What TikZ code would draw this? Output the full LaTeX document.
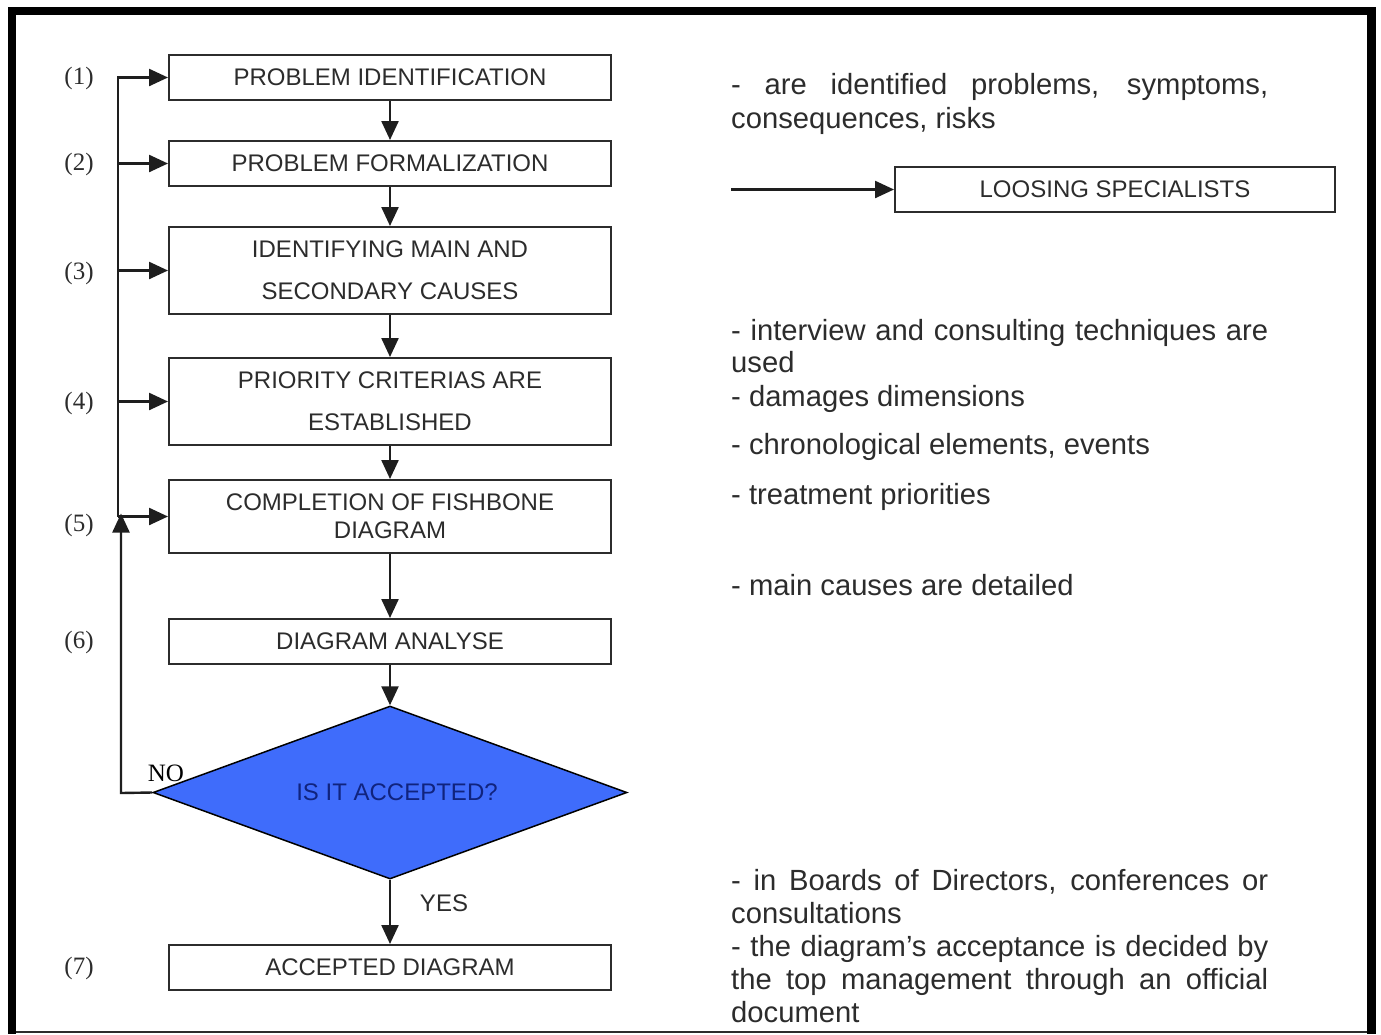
\documentclass[tikz,border=0pt]{standalone}
\usepackage{fontspec}
\setmainfont{Liberation Sans}
\newfontfamily\numfont{Liberation Serif}
\usetikzlibrary{arrows.meta,shapes.geometric,calc}
\definecolor{ink}{HTML}{2C2C2C}
\definecolor{wire}{HTML}{1E1E1E}
\definecolor{decision}{HTML}{3F6CFB}
\definecolor{decisiontext}{HTML}{10237E}

\begin{document}
\begin{tikzpicture}[x=1pt,y=-1pt,
  stepbox/.style={draw=ink, line width=2pt, minimum width=442pt, inner sep=0pt,
    align=center, text=ink, font=\fontsize{24}{42}\selectfont},
  flow/.style={draw=wire, line width=2.4pt, -{Triangle[length=19pt,width=17pt]}},
  wireline/.style={draw=wire, line width=2.4pt},
  steplabel/.style={inner sep=0pt, text=ink, font=\numfont\fontsize{25}{25}\selectfont},
  note/.style={anchor=base west, inner sep=0pt, text=ink, font=\fontsize{29.2}{29.2}\selectfont},
]
\useasboundingbox (0,0) rectangle (1381,1034);
\fill[white] (0,0) rectangle (1381,1034);

% page frame
\fill[black] (8,7) rectangle (1376,15);
\fill[black] (8,7) rectangle (16,1034);
\fill[black] (1367,7) rectangle (1376,1034);
\draw[ink, line width=2pt] (16,1032) -- (1367,1032);

% process steps
\node[stepbox, minimum height=45pt] (b1) at (390,77.5) {PROBLEM IDENTIFICATION};
\node[stepbox, minimum height=45pt] (b2) at (390,163.5) {PROBLEM FORMALIZATION};
\node[stepbox, minimum height=87pt] (b3) at (390,270.5) {IDENTIFYING MAIN AND\\SECONDARY CAUSES};
\node[stepbox, minimum height=87pt] (b4) at (390,401.5) {PRIORITY CRITERIAS ARE\\ESTABLISHED};
\node[stepbox, minimum height=73pt, font=\fontsize{24}{28}\selectfont] (b5) at (390,516.5) {COMPLETION OF FISHBONE\\DIAGRAM};
\node[stepbox, minimum height=45pt] (b6) at (390,641.5) {DIAGRAM ANALYSE};
\node[diamond, draw=black, line width=1.5pt, fill=decision, shape aspect=2.74,
  minimum width=474pt, minimum height=173pt, inner sep=0pt,
  text=decisiontext, font=\fontsize{24}{24}\selectfont] (dia) at (390,792.5) {\hspace*{14pt}IS IT ACCEPTED?};
\node[stepbox, minimum height=45pt] (b7) at (390,967.5) {ACCEPTED DIAGRAM};

% step numbers
\node[steplabel] (n1) at (79,78) {(1)};
\node[steplabel] (n2) at (79,164) {(2)};
\node[steplabel] (n3) at (79,273) {(3)};
\node[steplabel] (n4) at (79,403) {(4)};
\node[steplabel] (n5) at (79,525) {(5)};
\node[steplabel] (n6) at (79,642) {(6)};
\node[steplabel] (n7) at (79,968) {(7)};

% main flow
\draw[flow] (b1) -- (b2);
\draw[flow] (b2) -- (b3);
\draw[flow] (b3) -- (b4);
\draw[flow] (b4) -- (b5);
\draw[flow] (b5) -- (b6);
\draw[flow] (b6) -- (dia);
\draw[flow] (dia) -- (b7);
\node[inner sep=0pt, text=ink, font=\fontsize{24}{24}\selectfont] (yes) at (444,903) {YES};

% entry spine on the left
\coordinate (spine) at (118,76);
\draw[wireline] (spine) -- (spine |- b5.west);
\draw[flow] (spine |- b1.west) -- (b1.west);
\draw[flow] (spine |- b2.west) -- (b2.west);
\draw[flow] (spine |- b3.west) -- (b3.west);
\draw[flow] (spine |- b4.west) -- (b4.west);
\draw[flow] (spine |- b5.west) -- (b5.west);

% rejection loop back to step 5
\coordinate (back) at (121,793);
\draw[flow] (dia.west) -- (back) -- ($(back |- b5.west)+(0,-3)$);
\node[inner sep=0pt, text=black, font=\numfont\fontsize{25}{25}\selectfont] (no) at (166,773) {NO};

% side note with its own box
\node[stepbox, minimum width=440pt, minimum height=45pt] (loss) at (1115,189.5) {LOOSING SPECIALISTS};
\coordinate (feed) at (731,189.5);
\draw[flow] (feed) -- (loss.west);

% comments beside the steps
\node[note] (t1) at (731,94) {\makebox[537pt][s]{- are identified problems, symptoms,}};
\node[note] (t2) at (731,128) {consequences, risks};
\node[note] (t3) at (731,340) {\makebox[537pt][s]{- interview and consulting techniques are}};
\node[note] (t4) at (731,372) {used};
\node[note] (t5) at (731,406) {- damages dimensions};
\node[note] (t6) at (731,454) {- chronological elements, events};
\node[note] (t7) at (731,504) {- treatment priorities};
\node[note] (t8) at (731,595) {- main causes are detailed};
\node[note] (t9) at (731,890) {\makebox[537pt][s]{- in Boards of Directors, conferences or}};
\node[note] (t10) at (731,923) {consultations};
\node[note] (t11) at (731,956) {\makebox[537pt][s]{- the diagram's acceptance is decided by}};
\node[note] (t12) at (731,989) {\makebox[537pt][s]{the top management through an official}};
\node[note] (t13) at (731,1022) {document};
\end{tikzpicture}
\end{document}
